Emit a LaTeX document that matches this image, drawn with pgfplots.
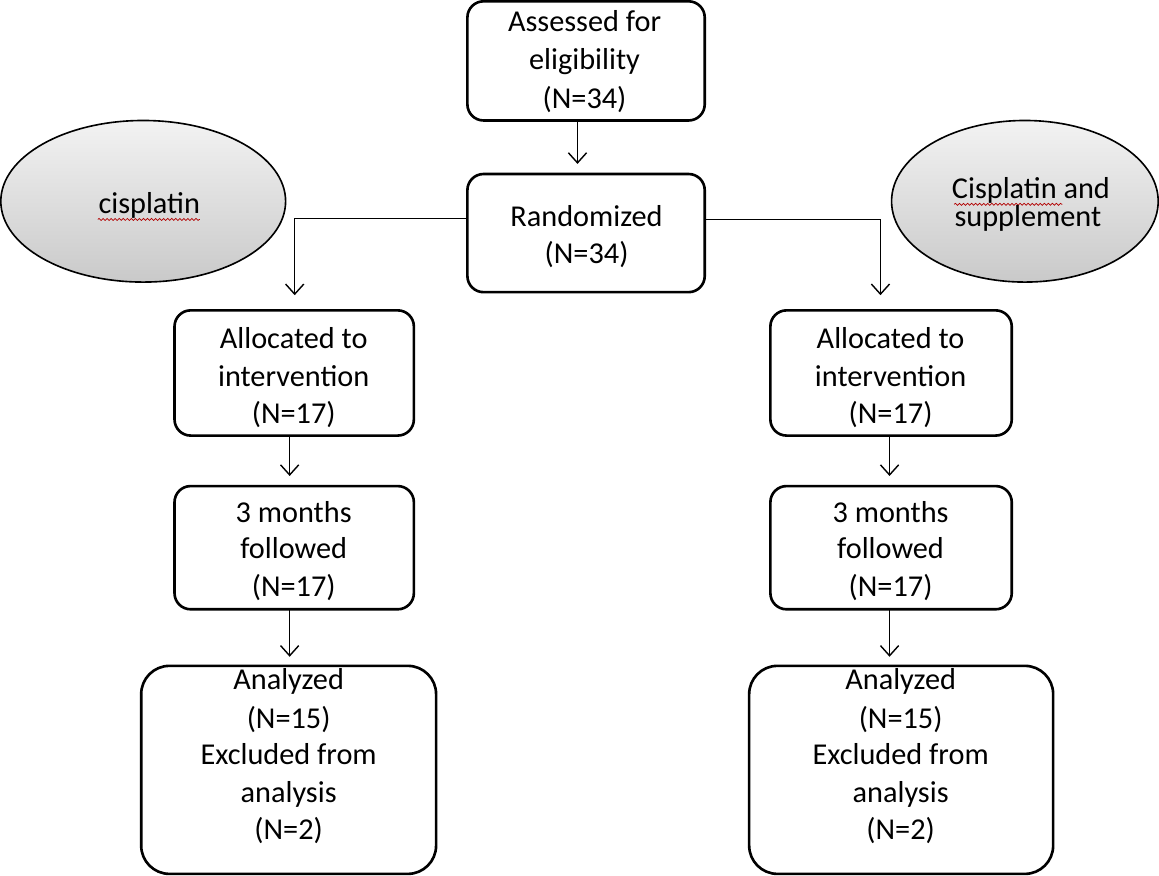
\documentclass[border=0pt]{standalone}
\usepackage{pgfplots}
\pgfplotsset{compat=1.18}
\usepackage{fontspec}
\setmainfont{Carlito}
\usetikzlibrary{arrows.meta,shapes.geometric,decorations.pathmorphing}
\newcommand\tl[3]{\node[anchor=base,inner sep=0pt,font=\fontsize{15}{17}\selectfont] at (axis cs:#1,#2) {#3};}
\begin{document}
\begin{tikzpicture}
\begin{axis}[width=579.5pt,height=441pt,scale only axis,
  xmin=0,xmax=1159,ymin=0,ymax=882,y dir=reverse,
  axis lines=none,ticks=none,clip=true]
% ellipses
\node[ellipse,draw=black,line width=0.8pt,top color=gray!10,bottom color=gray!42,
  minimum width=141pt,minimum height=80pt,inner sep=0pt] at (axis cs:152,213) {};
\node[ellipse,draw=black,line width=0.8pt,top color=gray!10,bottom color=gray!42,
  minimum width=132pt,minimum height=80pt,inner sep=0pt] at (axis cs:1025,213) {};
% boxes
\draw[line width=1.3pt,rounded corners=8pt] (axis cs:473,15) rectangle (axis cs:708,133);
\draw[line width=1.3pt,rounded corners=8pt] (axis cs:473,186) rectangle (axis cs:708,303);
\draw[line width=1.3pt,rounded corners=8pt] (axis cs:183,321) rectangle (axis cs:420,445);
\draw[line width=1.3pt,rounded corners=8pt] (axis cs:183,495) rectangle (axis cs:420,617);
\draw[line width=1.3pt,rounded corners=14pt] (axis cs:150,673) rectangle (axis cs:442,879);
\draw[line width=1.3pt,rounded corners=8pt] (axis cs:773,321) rectangle (axis cs:1012,445);
\draw[line width=1.3pt,rounded corners=8pt] (axis cs:773,495) rectangle (axis cs:1012,617);
\draw[line width=1.3pt,rounded corners=14pt] (axis cs:752,673) rectangle (axis cs:1053,879);
% arrows
\tikzset{arr/.style={line width=0.7pt,-{Straight Barb[length=5pt,width=9pt]}}}
\draw[arr] (axis cs:582,133) -- (axis cs:582,176);
\draw[arr] (axis cs:473,230) -- (axis cs:302,230) -- (axis cs:302,306);
\draw[arr] (axis cs:708,231) -- (axis cs:882,231) -- (axis cs:882,306);
\draw[arr] (axis cs:297,445) -- (axis cs:297,485);
\draw[arr] (axis cs:297,617) -- (axis cs:297,664);
\draw[arr] (axis cs:891,445) -- (axis cs:891,485);
\draw[arr] (axis cs:891,617) -- (axis cs:891,664);
% spell-check underlines
\draw[red!70!black,line width=0.35pt,decorate,decoration={snake,amplitude=0.5pt,segment length=2pt}]
  (axis cs:107,231) -- (axis cs:208,231);
\draw[red!70!black,line width=0.35pt,decorate,decoration={snake,amplitude=0.5pt,segment length=2pt}]
  (axis cs:955,216) -- (axis cs:1062,216);
% texts
\tl{589}{45}{Assessed for}
\tl{589}{83}{eligibility}
\tl{589}{121}{(N=34)}
\tl{591}{238}{Randomized}
\tl{591}{275}{(N=34)}
\tl{158}{225}{cisplatin}
\tl{1031}{210}{Cisplatin and}
\tl{1028}{238}{supplement}
\tl{301}{359}{Allocated to}
\tl{301}{396}{intervention}
\tl{301}{433}{(N=17)}
\tl{301}{531}{3 months}
\tl{301}{567}{followed}
\tl{301}{604}{(N=17)}
\tl{296}{696}{Analyzed}
\tl{296}{735}{(N=15)}
\tl{296}{771}{Excluded from}
\tl{296}{808}{analysis}
\tl{296}{845}{(N=2)}
\tl{892}{359}{Allocated to}
\tl{892}{396}{intervention}
\tl{892}{433}{(N=17)}
\tl{892}{531}{3 months}
\tl{892}{567}{followed}
\tl{892}{604}{(N=17)}
\tl{902}{696}{Analyzed}
\tl{902}{735}{(N=15)}
\tl{902}{771}{Excluded from}
\tl{902}{808}{analysis}
\tl{902}{845}{(N=2)}
\end{axis}
\end{tikzpicture}
\end{document}
